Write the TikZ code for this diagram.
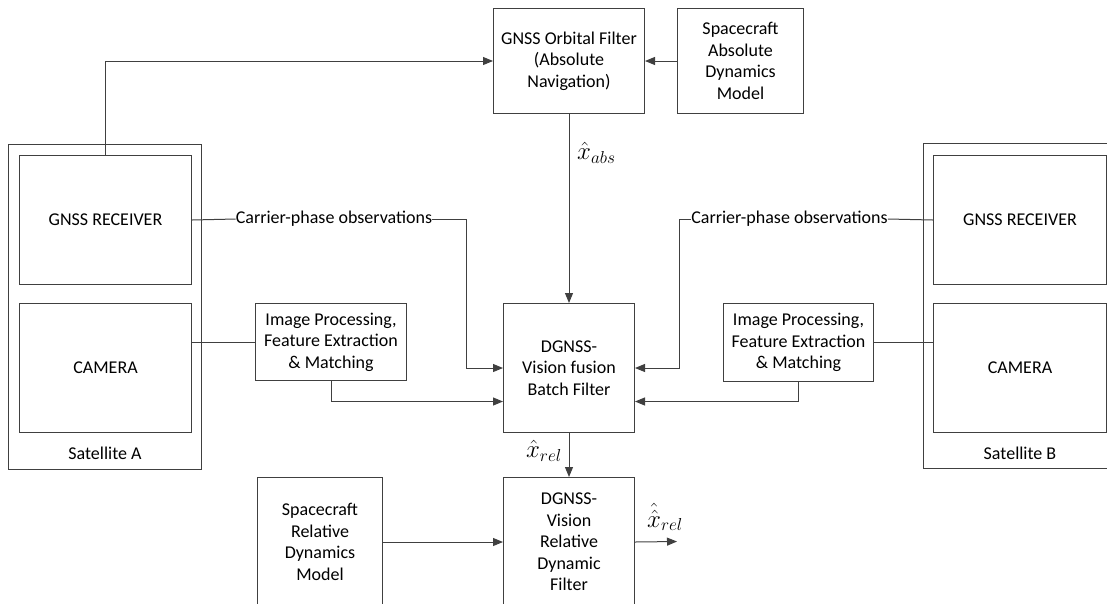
\documentclass[tikz,border=0pt]{standalone}
\usepackage{fontspec}
\setmainfont{Carlito}
\usetikzlibrary{arrows.meta}
\begin{document}
\begin{tikzpicture}[x=1pt,y=-1pt,
  box/.style={draw=black!75, line width=1pt, fill=white, align=center,
    inner sep=2pt, anchor=north west, font=\fontsize{18}{21.5}\selectfont},
  lbl/.style={inner sep=0pt, font=\fontsize{18}{21.5}\selectfont},
  mlbl/.style={inner sep=0pt, font=\fontsize{24}{28}\selectfont},
  conn/.style={draw=black!75, line width=1pt},
  arr/.style={conn, -{Triangle[length=10pt,width=8pt]}}]
\path[use as bounding box] (0,0) rectangle (1107,603);
\clip (0,0) rectangle (1107,603);

% Satellite A
\node[box, minimum width=193pt, minimum height=325pt] (satA) at (8,144) {};
\node[lbl] (satAlbl) at (105,453) {Satellite A};
\node[box, minimum width=172pt, minimum height=129pt] (gnssA) at (19,155) {GNSS RECEIVER};
\node[box, minimum width=172pt, minimum height=129pt] (camA) at (19,303) {CAMERA};

% Satellite B
\node[box, minimum width=200pt, minimum height=325pt] (satB) at (923,143) {};
\node[lbl] (satBlbl) at (1020,453) {Satellite B};
\node[box, minimum width=173pt, minimum height=129pt] (gnssB) at (933,155) {GNSS RECEIVER};
\node[box, minimum width=173pt, minimum height=129pt] (camB) at (933,303) {CAMERA};

% Processing blocks
\node[box, minimum width=151pt, minimum height=105pt] (orb) at (493,8)
  {GNSS Orbital Filter\\(Absolute\\Navigation)};
\node[box, minimum width=126pt, minimum height=105pt] (absdyn) at (677,8)
  {Spacecraft\\Absolute\\Dynamics\\Model};
\node[box, minimum width=151pt, minimum height=77pt] (imgA) at (255,303)
  {Image Processing,\\Feature Extraction\\\& Matching};
\node[box, minimum width=150pt, minimum height=78pt] (imgB) at (723,303)
  {Image Processing,\\Feature Extraction\\\& Matching};
\node[box, minimum width=131pt, minimum height=129pt] (fusion) at (503,303)
  {DGNSS-\\Vision fusion\\Batch Filter};
\node[box, minimum width=125pt, minimum height=129pt] (reldyn) at (257,477)
  {Spacecraft\\Relative\\Dynamics\\Model};
\node[box, minimum width=131pt, minimum height=129pt] (relfilt) at (503,477)
  {DGNSS-\\Vision\\Relative\\Dynamic\\Filter};

% Carrier-phase labels
\node[lbl] (cpA) at (334,219) {Carrier-phase observations};
\node[lbl] (cpB) at (789.5,219) {Carrier-phase observations};

% Connectors
\draw[arr] (gnssA.north) |- (orb.west);
\draw[arr] (absdyn.west) -- (orb.east);
\draw[arr] (orb.south) -- (fusion.north);
\node[mlbl, anchor=west] (xabs) at (577,153) {$\hat{x}_{abs}$};

\draw[conn] (gnssA.east) -- (cpA.west);
\draw[arr] (cpA.east) -- ++(34,0) |- (fusion.west);
\draw[conn] (imgA.west) -- (imgA.west -| camA.east);
\draw[arr] (imgA.south) |- ([yshift=-33.5pt]fusion.west);

\draw[conn] (gnssB.west) -- (cpB.east);
\draw[arr] (cpB.west) -- ++(-12,0) |- (fusion.east);
\draw[conn] (imgB.east) -- (imgB.east -| camB.west);
\draw[arr] (imgB.south) |- ([yshift=-33.5pt]fusion.east);

\draw[arr] (fusion.south) -- (relfilt.north);
\node[mlbl, anchor=east] (xrel) at (562,451) {$\hat{x}_{rel}$};

\draw[arr] (reldyn.east) -- (relfilt.west);
\coordinate (out) at (677,541.5);
\draw[arr] (relfilt.east) -- (out);
\node[mlbl, anchor=west] (xrelf) at (647,517) {$\hat{\hat{x}}_{rel}$};
\end{tikzpicture}
\end{document}
